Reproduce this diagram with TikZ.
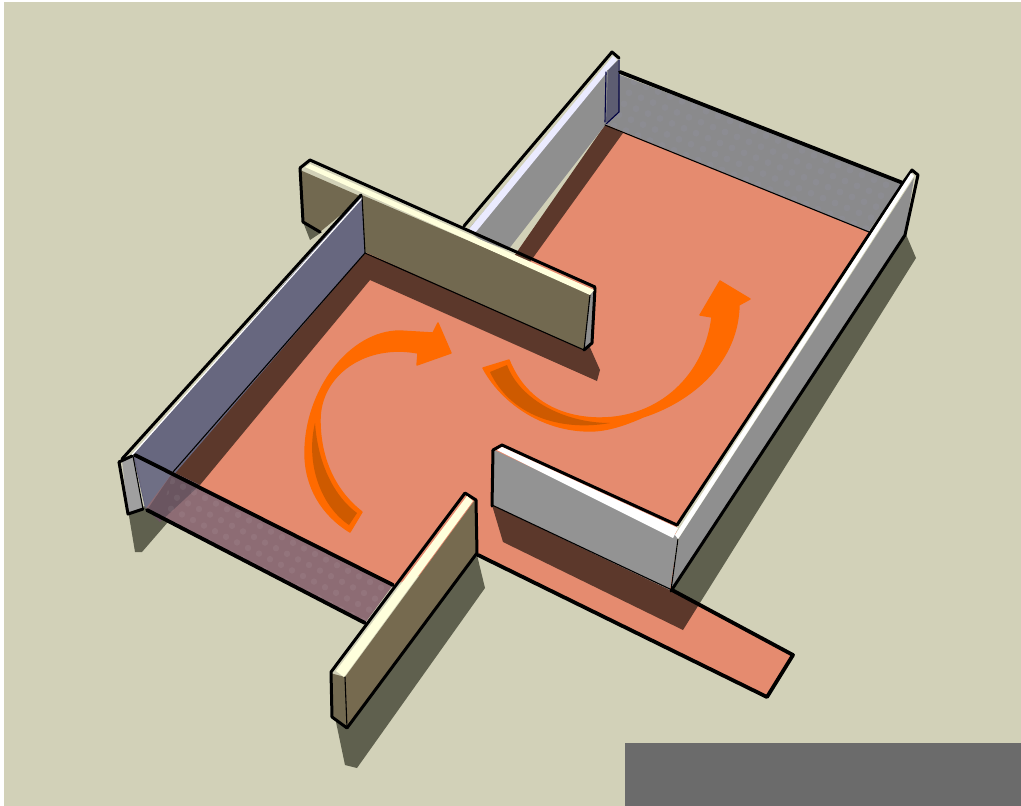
\documentclass[tikz,border=0pt]{standalone}
\definecolor{ground}{HTML}{D2D1B8}
\definecolor{gshadow}{HTML}{5F604E}
\definecolor{floorc}{HTML}{E58B6F}
\definecolor{fshadow}{HTML}{5C382B}
\definecolor{olive}{HTML}{726950}
\definecolor{cream}{HTML}{FFFFDC}
\definecolor{graywall}{HTML}{8F8F8F}
\definecolor{backwall}{HTML}{8A8A8C}
\definecolor{bluewall}{HTML}{67677F}
\definecolor{pinkwall}{HTML}{8D6C74}
\definecolor{pinkdark}{HTML}{6A5560}
\definecolor{orangeA}{HTML}{FF6A00}
\definecolor{orangeD}{HTML}{CE5A00}
\definecolor{band}{HTML}{6B6B6B}
\tikzset{
  thick line/.style={draw=black,line width=3.8pt,line cap=round,line join=round},
  mid line/.style={draw=black,line width=3pt,line cap=round,line join=round},
  thin line/.style={draw=black,line width=1.1pt,line cap=round,line join=round},
  arrowshape/.style={fill=orangeA,draw=orangeA,line width=1.4pt,line join=round},
  tailshape/.style={fill=orangeD},
  mottle/.style={fill=#1,fill opacity=.06},
}
\begin{document}
\begin{tikzpicture}[x=1pt,y=-1pt]
\useasboundingbox (0,0) rectangle (1021,806);
% paper and ground
\fill[white] (0,0) rectangle (1021,806);
\fill[ground] (4,2) rectangle (1021,806);
\fill[band] (625,743) rectangle (1021,806);
% ground shadows
\fill[gshadow] (128,510) -- (135,552) -- (142,552) -- (168,522) -- (150,505) -- cycle;
\fill[gshadow] (336,722) -- (345,765) -- (357,768) -- (485,588) -- (477,555) -- cycle;
\fill[gshadow] (672,590) -- (698,606) -- (916,258) -- (905,232) -- cycle;
\fill[gshadow] (303,222) -- (310,240) -- (322,232) -- cycle;
% floor
\fill[floorc] (135,455) -- (365,253) -- (510,262) -- (607,125) -- (870,232) -- (677,525) -- (672,590)
  -- (793,655) -- (767,697) -- (478,555) -- (393,585) -- cycle;
% floor shadows
\fill[fshadow] (365,253) -- (173,472) -- (200,485) -- (370,280) -- (597,381) -- (600,370) -- (588,343) -- cycle;
\fill[fshadow] (510,262) -- (605,125) -- (623,133) -- (530,262) -- cycle;
\fill[fshadow] (492,505) -- (503,542) -- (683,630) -- (698,606) -- (670,590) -- cycle;
% strip outline
\draw[thick line] (478,555) -- (767,697) -- (793,655) -- (672,590);
% cross wall, rear part
\fill[olive] (300,170) -- (303,223) -- (320,232) -- (362,197) -- cycle;
\draw[mid line] (300,168) -- (303,222) -- (320,232);
% left wall
\fill[bluewall] (133,455) -- (362,195) -- (365,253) -- (145,508) -- cycle;
\draw[thin line] (365,253) -- (173,472);
% front transparent wall
\fill[pinkwall] (135,455) -- (393,585) -- (365,623) -- (147,510) -- cycle;
\fill[pinkdark] (173,472) -- (200,485) -- (160,522) -- (147,510) -- cycle;
\fill[bluewall!95!white] (135,455) -- (173,472) -- (146,508) -- cycle;
\begin{scope}
\clip (173,472) -- (393,585) -- (365,623) -- (160,518) -- cycle;
\foreach \a in {0,...,24}{\foreach \b in {0,...,5}{
  \fill[mottle=white] ({150+\a*11+\b*-6},{470+\a*5.6+\b*11}) circle (3.2pt);}}
\end{scope}
\draw[thick line] (135,455) -- (393,585);
\draw[thick line] (147,510) -- (365,623);
% left wall top and end cap
\draw[mid line] (122,459) -- (361,195);
\draw[white,line width=1.2pt] (131,456) -- (362,198);
\fill[graywall!85!white] (122,460) -- (133,457) -- (143,509) -- (128,515) -- cycle;
\draw[mid line] (119,462) -- (132,456);
\draw[mid line] (119,462) -- (128,514) -- (143,509);
\draw[thin line] (133,456) -- (143,509);
% right room: back-left wall
\fill[graywall] (468,230) -- (612,60) -- (606,124) -- (508,250) -- (480,240) -- cycle;
\draw[mid line] (464,226) -- (612,52) -- (619,58);
\fill[white!92!blue] (469,229) -- (613,56) -- (617,60) -- (475,233) -- cycle;
% back wall
\fill[backwall] (607,70) -- (903,182) -- (868,232) -- (607,125) -- cycle;
\begin{scope}
\clip (619,70) -- (903,182) -- (868,232) -- (607,125) -- cycle;
\foreach \a in {0,...,24}{\foreach \b in {0,...,6}{
  \fill[mottle=blue!30!white] ({610+\a*12+\b*-5},{72+\a*4.9+\b*11}) circle (3.4pt);}}
\end{scope}
\fill[bluewall!90!black] (608,70) -- (618,60) -- (619,112) -- (606,123) -- cycle;
\draw[thin line,draw=blue!25!black] (606,72) -- (605,122);
\draw[thin line,draw=blue!25!black] (619,60) -- (619,112) -- (606,124);
\draw[thick line] (620,72) -- (903,183);
\draw[thin line] (605,125) -- (869,232);
% front wall of right room
\fill[graywall!96!white] (494,450) -- (678,536) -- (670,590) -- (492,505) -- cycle;
\draw[mid line] (493,450) -- (492,506);
\draw[mid line] (493,450) -- (502,445) -- (677,525);
\draw[thin line] (492,505) -- (672,590);
\fill[white] (497,450) -- (502,447) -- (678,528) -- (673,538) -- cycle;
% right outer wall
\fill[graywall] (679,538) -- (914,178) -- (905,234) -- (671,590) -- cycle;
\draw[mid line] (677,525) -- (905,180) -- (912,170) -- (918,175) -- (905,235) -- (671,591);
\draw[thin line] (678,539) -- (671,590);
\fill[white] (675,535) -- (911,173) -- (914,176) -- (678,539) -- cycle;
% cross wall, front part
\fill[olive] (362,195) -- (365,252) -- (584,350) -- (590,293) -- cycle;
\fill[graywall] (590,293) -- (595,288) -- (592,343) -- (584,350) -- cycle;
\draw[thin line] (362,196) -- (365,253) -- (584,350);
\draw[thin line] (590,295) -- (584,350);
\draw[mid line] (595,288) -- (592,343) -- (584,350);
\draw[mid line] (300,168) -- (310,160) -- (595,287);
\fill[cream] (305,167) -- (310,164) -- (594,290) -- (590,295) -- cycle;
% front post
\fill[olive!95!brown] (475,500) -- (477,553) -- (347,728) -- (345,677) -- cycle;
\fill[olive] (330,673) -- (345,677) -- (347,728) -- (332,717) -- cycle;
\draw[mid line] (465,493) -- (331,672) -- (332,717) -- (347,728) -- (477,553) -- (476,500) -- (465,493);
\draw[thin line] (345,677) -- (347,728);
\fill[cream] (467,496) -- (473,501) -- (344,677) -- (336,671) -- cycle;
% left arrow
\filldraw[arrowshape] (350,532) .. controls (322,515) and (305,487) .. (305,453)
  .. controls (305,390) and (350,331) .. (400,331) -- (433,333)
  -- (438,323) -- (451,353) -- (417,365) -- (418,353)
  .. controls (365,343) and (320,375) .. (320,420)
  .. controls (320,465) and (340,495) .. (362,512) -- cycle;
\fill[tailshape] (315,423) .. controls (305,465) and (322,507) .. (349,525) -- (357,513)
  .. controls (335,497) and (318,465) .. (315,423) -- cycle;
% right arrow
\filldraw[arrowshape] (483,368) -- (509,360)
  .. controls (525,400) and (560,418) .. (600,418)
  .. controls (660,418) and (705,375) .. (712,317)
  -- (700,315) -- (720,281) -- (750,299) -- (739,305)
  .. controls (738,360) and (695,400) .. (643,417)
  .. controls (625,425) and (607,431) .. (590,431)
  .. controls (540,431) and (500,400) .. (483,368) -- cycle;
\fill[tailshape] (490,372) -- (507,365) .. controls (520,400) and (565,423) .. (610,423)
  .. controls (560,432) and (510,415) .. (490,372) -- cycle;
\end{tikzpicture}
\end{document}
